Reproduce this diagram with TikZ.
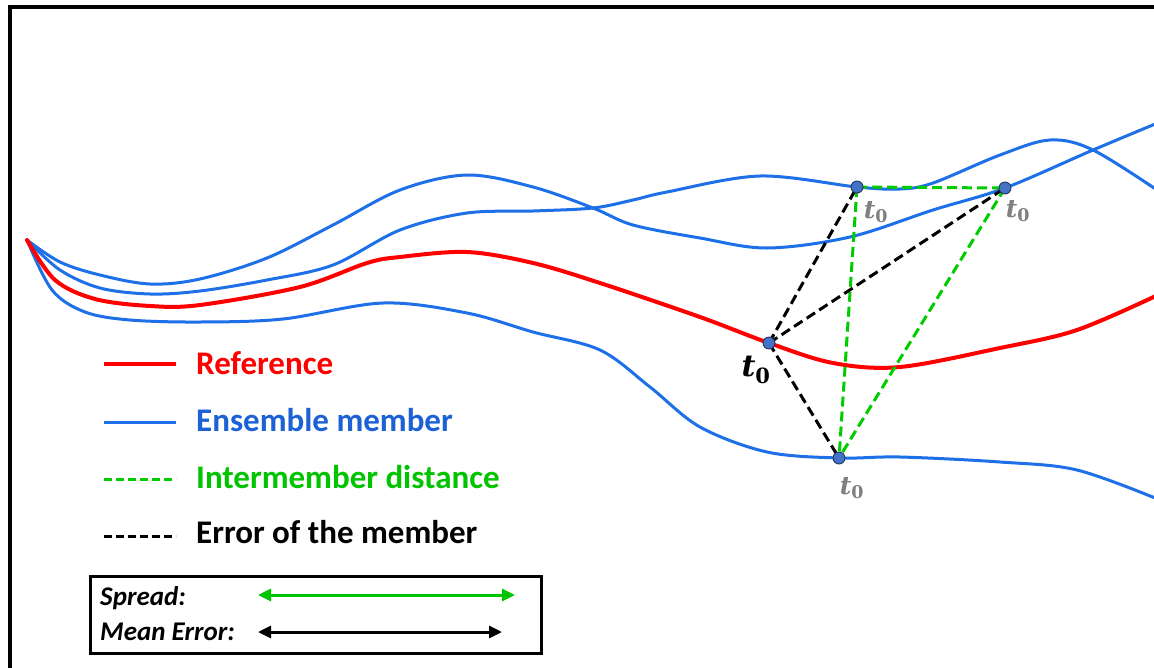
\documentclass[tikz,border=0pt]{standalone}
\usepackage{fontspec}
\setmainfont{Carlito}
\newfontfamily\tfont{DejaVu Serif}
\newcommand{\tzero}{{\tfont\bfseries\itshape t}\textsubscript{\tfont\bfseries 0}}
\usetikzlibrary{arrows.meta}
\definecolor{cblue}{RGB}{30,112,232}
\definecolor{tblue}{RGB}{28,98,214}
\definecolor{cred}{RGB}{255,0,0}
\definecolor{cgreen}{RGB}{0,204,0}
\definecolor{tgreen}{RGB}{0,196,0}
\definecolor{dotfill}{RGB}{68,114,196}
\definecolor{dotdraw}{RGB}{35,55,100}
\definecolor{lblgray}{RGB}{128,128,128}
\begin{document}
\begin{tikzpicture}[x=1pt,y=-1pt,
  member/.style={cblue,line width=3pt,line cap=round,line join=round},
  refline/.style={cred,line width=4pt,line cap=round,line join=round},
  distline/.style={cgreen,line width=3pt,dash pattern=on 10pt off 5pt},
  errline/.style={black,line width=3pt,dash pattern=on 10pt off 5pt},
  dot/.style={circle,inner sep=0pt,minimum size=12pt,fill=dotfill,draw=dotdraw,line width=0.9pt},
  graylbl/.style={text=lblgray,inner sep=0pt,font=\fontsize{25}{29}\selectfont},
  legtext/.style={anchor=west,inner sep=0pt,font=\bfseries\fontsize{33}{39}\selectfont},
  boxtext/.style={anchor=west,inner sep=0pt,font=\bfseries\itshape\fontsize{27}{32}\selectfont},
  tipA/.style={{Triangle[length=13pt,width=12pt]}-{Triangle[length=13pt,width=12pt]}}
]
\useasboundingbox (0,0) rectangle (1154,667);
\fill[white] (0,0) rectangle (1154,667);
% outer frame (only left and top visible)
\draw[line width=4pt] (10,690) -- (10,6.5) -- (1180,6.5);

% curves
\draw[member] plot[smooth,tension=0.55] coordinates {(27,240) (60,262) (100,275) (150,284) (200,279) (267,258) (333,225) (400,190) (467,175) (533,187) (593,208) (633,225) (700,238) (767,248) (850,237) (933,210) (1005,188) (1093,150) (1160,122)};
\draw[member] plot[smooth,tension=0.55] coordinates {(27,240) (60,270) (100,288) (150,294) (200,291) (267,280) (333,265) (400,230) (467,213) (533,211) (593,208) (633,200) (667,192) (760,176) (857,187) (900,189) (933,183) (1000,155) (1050,140) (1093,150) (1160,192)};
\draw[member] plot[smooth,tension=0.55] coordinates {(27,240) (52,290) (85,312) (130,320) (200,322) (283,319) (383,303) (467,313) (533,332) (600,350) (650,387) (700,427) (767,452) (839,458) (900,457) (1000,462) (1077,470) (1160,500)};
\draw[refline] plot[smooth,tension=0.55] coordinates {(27,240) (55,280) (95,299) (150,306) (200,305) (300,287) (367,263) (400,257) (467,252) (533,263) (600,283) (700,317) (769,343) (833,363) (900,367) (1000,348) (1077,330) (1160,294)};

% points
\coordinate (r) at (769,343);
\coordinate (u1) at (857,187);
\coordinate (u2) at (1005,188);
\coordinate (lo) at (839,458);

\draw[distline] (u1) -- (u2);
\draw[distline] (u1) -- (lo);
\draw[distline] (u2) -- (lo);
\draw[errline] (r) -- (u1);
\draw[errline] (r) -- (u2);
\draw[errline] (r) -- (lo);

\node[dot] (nr) at (r) {};
\node[dot] (nu1) at (u1) {};
\node[dot] (nu2) at (u2) {};
\node[dot] (nlo) at (lo) {};

\node[graylbl] (l1) at (876,212) {\tzero};
\node[graylbl] (l2) at (1018,211) {\tzero};
\node[graylbl] (l3) at (852,488) {\tzero};
\node[inner sep=0pt,font=\fontsize{30}{36}\selectfont] (l0) at (756,370) {\tzero};

% legend
\coordinate (a1) at (104,364); \coordinate (b1) at (176,364);
\coordinate (a2) at (104,422); \coordinate (b2) at (176,422);
\coordinate (a3) at (104,479); \coordinate (b3) at (176,479);
\coordinate (a4) at (104,536); \coordinate (b4) at (176,536);
\draw[cred,line width=4pt] (a1) -- (b1);
\draw[cblue,line width=3pt] (a2) -- (b2);
\draw[cgreen,line width=3pt,dash pattern=on 8pt off 4pt] (a3) -- (b3);
\draw[black,line width=3pt,dash pattern=on 8pt off 4pt] (a4) -- (b4);
\node[legtext,text=cred] (t1) at (196,363) {Reference};
\node[legtext,text=tblue] (t2) at (196,420) {Ensemble member};
\node[legtext,text=tgreen] (t3) at (196,477) {Intermember distance};
\node[legtext,text=black] (t4) at (196,532) {Error of the member};

% box
\node[draw,line width=3pt,inner sep=0pt,minimum width=451pt,minimum height=77pt] (box) at (315.5,614.5) {};
\node[boxtext] (s1) at (100,598) {Spread:};
\node[boxtext] (s2) at (100,632) {Mean Error:};
\coordinate (sa) at (258,595); \coordinate (sb) at (515,595);
\coordinate (ea) at (258,632); \coordinate (eb) at (502,632);
\draw[tipA,tgreen,line width=3pt] (sa) -- (sb);
\draw[tipA,black,line width=3pt] (ea) -- (eb);
\end{tikzpicture}
\end{document}
